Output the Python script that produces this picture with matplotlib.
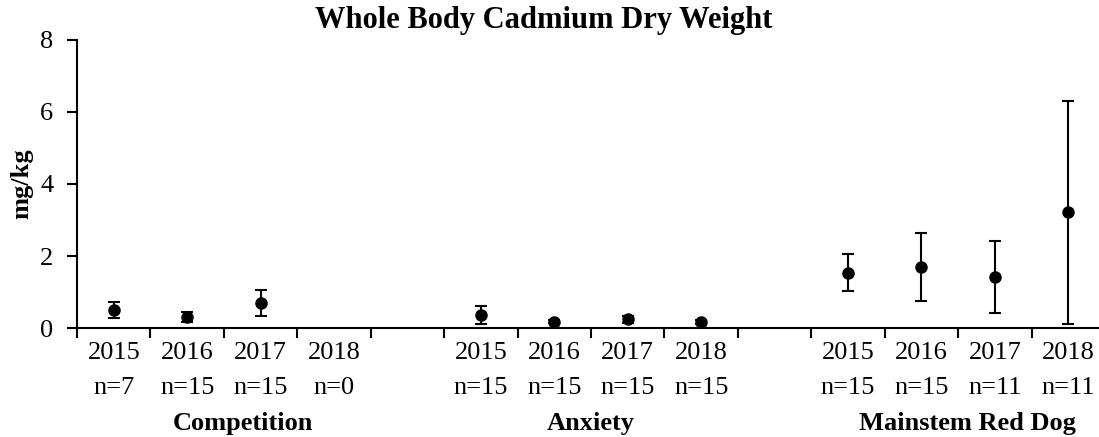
import matplotlib
matplotlib.use("Agg")
import matplotlib.pyplot as plt
from matplotlib.transforms import blended_transform_factory
import numpy as np

plt.rcParams['font.family'] = ['Liberation Serif', 'DejaVu Serif']

groups = ['Competition', 'Anxiety', 'Mainstem Red Dog']
years = ['2015', '2016', '2017', '2018']
n_counts = [[7, 15, 15, 0], [15, 15, 15, 15], [15, 15, 11, 11]]
means = [[0.50, 0.31, 0.69, np.nan],
         [0.36, 0.18, 0.24, 0.16],
         [1.54, 1.70, 1.43, 3.21]]
errs = [[0.22, 0.14, 0.36, np.nan],
        [0.24, 0.05, 0.10, 0.05],
        [0.52, 0.94, 1.00, 3.10]]

# each group takes 4 slots, followed by one empty slot
slot_w = 5
fig = plt.figure(figsize=(10.99, 4.37), dpi=100)
ax = fig.add_axes([0.0701, 0.2494, 0.9354, 0.6591])

xs, ys, es, labels = [], [], [], []
for g in range(len(groups)):
    for i, yr in enumerate(years):
        xs.append(g * slot_w + i + 0.5)
        ys.append(means[g][i])
        es.append(errs[g][i])
        labels.append(yr + '\nn=' + str(n_counts[g][i]))

ax.errorbar(xs, ys, yerr=es, fmt='o', color='black', ms=8,
            elinewidth=1.5, capsize=4.5, capthick=1.5)

ax.set_xlim(0, 14)
ax.set_ylim(0, 8)
ax.set_yticks([0, 2, 4, 6, 8])
ax.tick_params(axis='y', labelsize=19, length=7, width=1.5, direction='out', pad=10)
ax.set_xticks(np.arange(0, 15))
ax.set_xticklabels([])
ax.tick_params(axis='x', which='major', length=7, width=1.5, direction='out')
ax.set_xticks(xs, minor=True)
ax.set_xticklabels(labels, minor=True, fontsize=19, linespacing=1.75)
ax.tick_params(axis='x', which='minor', length=0, pad=10)

for s in ['top', 'right']:
    ax.spines[s].set_visible(False)
for s in ['left', 'bottom']:
    ax.spines[s].set_linewidth(1.5)

ax.set_ylabel('mg/kg', fontsize=19, fontweight='bold')
ax.yaxis.set_label_coords(-0.0425, 0.5)

trans = blended_transform_factory(ax.transData, fig.transFigure)
group_x = [2.26, 7.0, 12.13]
for gx, name in zip(group_x, groups):
    fig.text(gx, 0.032, name, transform=trans, ha='center', va='center',
             fontsize=19, fontweight='bold')

fig.text(0.495, 0.952, 'Whole Body Cadmium Dry Weight', ha='center', va='center',
         fontsize=22, fontweight='bold')

fig.savefig('out.png', dpi=100)
